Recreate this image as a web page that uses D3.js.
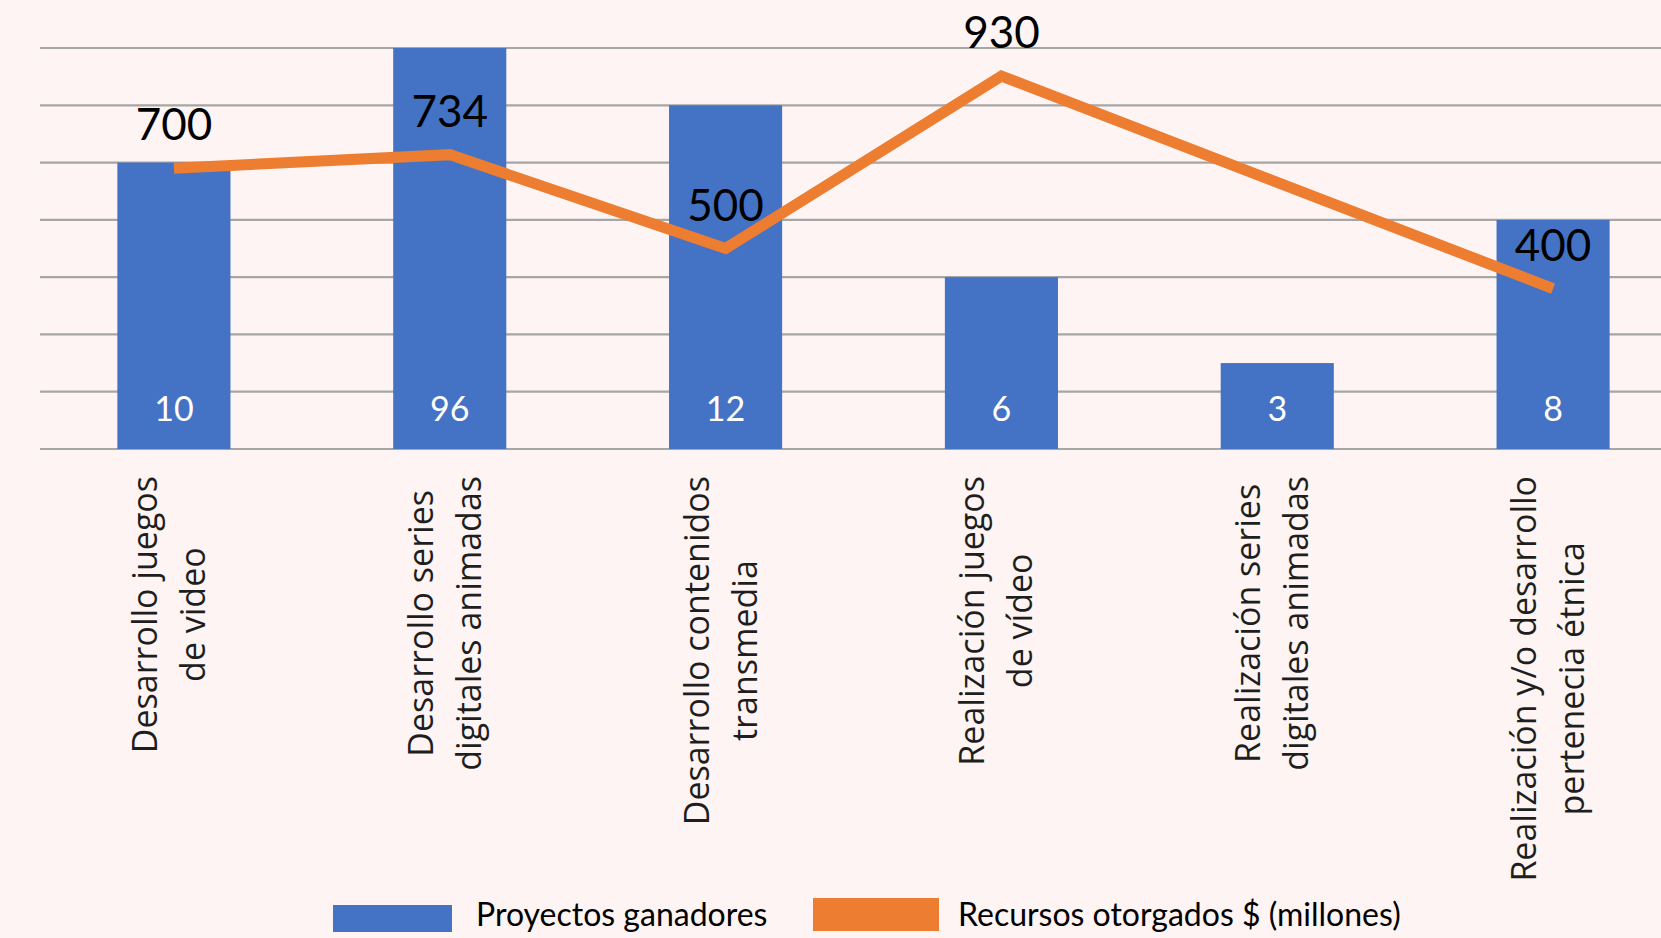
<!DOCTYPE html>
<html lang="es">
<head>
<meta charset="utf-8">
<script src="https://cdn.jsdelivr.net/npm/d3@7"></script>
<style>
  html, body { margin: 0; padding: 0; background: #fdf4f3; }
  svg { display: block; }
</style>
</head>
<body>
<svg id="chart" width="1661" height="938"></svg>
<script>
// Convocatorias: proyectos ganadores y recursos otorgados por categoría
const categorias = [
  ["Desarrollo juegos", "de video"],
  ["Desarrollo series", "digitales animadas"],
  ["Desarrollo contenidos", "transmedia"],
  ["Realización juegos", "de vídeo"],
  ["Realización series", "digitales animadas"],
  ["Realización y/o desarrollo", "pertenecia étnica"]
];
const proyectosGanadores = [10, 96, 12, 6, 3, 8];
const recursosOtorgados = [700, 734, 500, 930, 665, 400];
const recursosConEtiqueta = [true, true, true, true, false, true];
const ejeProyectos = [0, 14];
const ejeRecursos = [0, 1000];
const leyenda = ["Proyectos ganadores", "Recursos otorgados $ (millones)"];

const AZUL = "#4472c4";
const NARANJA = "#ed7d31";

const svg = d3.select("#chart");

const x = d3.scaleBand()
  .domain(d3.range(categorias.length))
  .range([36, 1691])
  .paddingInner(0.59)
  .paddingOuter(0.295);

const yBar = d3.scaleLinear().domain(ejeProyectos).range([449, 48]).clamp(true);
const yLine = d3.scaleLinear().domain(ejeRecursos).range([449, 48]);

const cx = i => x(i) + x.bandwidth() / 2;

// Líneas de cuadrícula horizontales
svg.append("g")
  .selectAll("line")
  .data(yBar.ticks(7))
  .join("line")
  .attr("x1", 40)
  .attr("x2", 1691)
  .attr("y1", d => yBar(d))
  .attr("y2", d => yBar(d))
  .attr("stroke", "#a6a6a6")
  .attr("stroke-width", 2.2);

// Barras: proyectos ganadores
svg.append("g")
  .selectAll("rect")
  .data(proyectosGanadores)
  .join("rect")
  .attr("x", (d, i) => x(i))
  .attr("width", x.bandwidth())
  .attr("y", d => yBar(d))
  .attr("height", d => yBar(0) - yBar(d))
  .attr("fill", AZUL);

// Etiquetas de las barras (en la base)
svg.append("g")
  .selectAll("text")
  .data(proyectosGanadores)
  .join("text")
  .attr("x", (d, i) => cx(i))
  .attr("y", yBar(0) - 28)
  .attr("text-anchor", "middle")
  .attr("fill", "#ffffff")
  .style("font-family", "Lato, 'Open Sans', sans-serif")
  .style("font-size", "34px")
  .text(d => d);

// Línea: recursos otorgados
const linea = d3.line()
  .x((d, i) => cx(i))
  .y(d => yLine(d));

svg.append("path")
  .datum(recursosOtorgados)
  .attr("d", linea)
  .attr("fill", "none")
  .attr("stroke", NARANJA)
  .attr("stroke-width", 11)
  .attr("stroke-linejoin", "miter")
  .attr("stroke-linecap", "butt");

// Etiquetas de la línea
svg.append("g")
  .selectAll("text")
  .data(recursosOtorgados.map((v, i) => ({ v, i })).filter(d => recursosConEtiqueta[d.i]))
  .join("text")
  .attr("x", d => cx(d.i))
  .attr("y", d => yLine(d.v) - 28)
  .attr("text-anchor", "middle")
  .attr("fill", "#000000")
  .style("font-family", "Lato, 'Open Sans', sans-serif")
  .style("font-size", "44px")
  .text(d => d.v);

// Etiquetas de categoría, giradas 90°
const ejeX = svg.append("g");
categorias.forEach((lineas, i) => {
  const g = ejeX.append("g")
    .attr("transform", `translate(${cx(i)},${yBar(0) + 27}) rotate(-90)`);
  const textos = lineas.map((t, k) => g.append("text")
    .attr("text-anchor", "middle")
    .attr("y", (k - (lineas.length - 1) / 2) * 48 + 7)
    .attr("fill", "#1e1e1e")
    .style("font-family", "'Open Sans', sans-serif")
    .style("font-size", "34px")
    .text(t));
  const maxLen = d3.max(textos, t => t.node().getComputedTextLength());
  textos.forEach(t => t.attr("x", -maxLen / 2));
});

// Leyenda
const ley = svg.append("g")
  .style("font-family", "Lato, 'Open Sans', sans-serif")
  .style("font-size", "32px")
  .attr("fill", "#000000");

ley.append("rect").attr("x", 333).attr("y", 905).attr("width", 119).attr("height", 27).attr("fill", AZUL);
ley.append("text").attr("x", 476).attr("y", 926).text(leyenda[0]);
ley.append("rect").attr("x", 813).attr("y", 898).attr("width", 126).attr("height", 33).attr("fill", NARANJA);
ley.append("text").attr("x", 958).attr("y", 926).text(leyenda[1]);
</script>
</body>
</html>
